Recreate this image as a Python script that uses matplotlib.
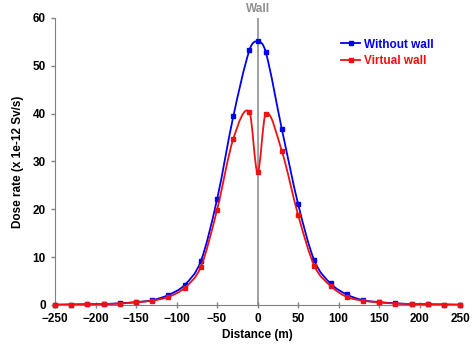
import matplotlib
matplotlib.use("Agg")
import matplotlib.pyplot as plt
from matplotlib.path import Path
from matplotlib.patches import PathPatch

plt.rcParams['font.family'] = ['Liberation Sans', 'DejaVu Sans']
plt.rcParams['font.weight'] = 'bold'

distance = [-250, -230, -210, -190, -170, -150, -130, -110, -90, -70, -50, -30, -10, 0,
            10, 30, 50, 70, 90, 110, 130, 150, 170, 190, 210, 230, 250]
without_wall = [0.05, 0.1, 0.15, 0.2, 0.35, 0.6, 1.0, 2.1, 4.2, 9.2, 22.1, 39.4, 53.3, 55.1,
                52.9, 36.7, 21.1, 9.3, 4.5, 2.2, 1.0, 0.6, 0.35, 0.2, 0.15, 0.1, 0.05]
virtual_wall = [0.05, 0.1, 0.15, 0.2, 0.3, 0.55, 0.9, 1.7, 3.6, 8.0, 19.9, 34.7, 40.3, 27.7,
                40.0, 32.1, 18.8, 8.2, 4.0, 1.7, 0.9, 0.55, 0.3, 0.2, 0.15, 0.1, 0.05]


def smooth_path(xs, ys):
    # smoothed line: cubic Bezier through the points, tangents scaled by spacing
    pts = list(zip(xs, ys))
    verts = [pts[0]]
    codes = [Path.MOVETO]
    n = len(pts)
    for i in range(n - 1):
        p0 = pts[max(i - 1, 0)]
        p1 = pts[i]
        p2 = pts[i + 1]
        p3 = pts[min(i + 2, n - 1)]
        h = p2[0] - p1[0]
        a = h / (p2[0] - p0[0]) / 3
        b = h / (p3[0] - p1[0]) / 3
        c1 = (p1[0] + (p2[0] - p0[0]) * a, p1[1] + (p2[1] - p0[1]) * a)
        c2 = (p2[0] - (p3[0] - p1[0]) * b, p2[1] - (p3[1] - p1[1]) * b)
        verts += [c1, c2, p2]
        codes += [Path.CURVE4] * 3
    return Path(verts, codes)


fig = plt.figure(figsize=(4.72, 3.45), dpi=100)
ax = fig.add_axes([0.1165, 0.116, 0.8585, 0.832])

ax.axvline(0, color='#909090', lw=1.2, zorder=1)
for ys, c, lab, z in [(without_wall, '#0000ee', 'Without wall', 3),
                      (virtual_wall, '#ee1111', 'Virtual wall', 4)]:
    ax.add_patch(PathPatch(smooth_path(distance, ys), fill=False, edgecolor=c, lw=1.3,
                           zorder=z))
    ax.plot(distance, ys, color=c, lw=1.3, ls='none', marker='s', ms=3.5, zorder=z,
            clip_on=False)
    ax.plot([], [], color=c, lw=1.3, marker='s', ms=3.5, label=lab)

ax.set_xlim(-250, 250)
ax.set_ylim(0, 60)
ax.set_xticks(range(-250, 251, 50))
ax.set_yticks(range(0, 61, 10))
ax.tick_params(labelsize=8.5, length=3, color='#808080', width=1)
ax.tick_params(axis='x', direction='inout', length=5)

for s in ['top', 'right']:
    ax.spines[s].set_visible(False)
ax.spines['left'].set_color('#808080')
ax.spines['bottom'].set_color('#808080')

ax.set_xlabel('Distance (m)', fontsize=8.5, fontweight='bold', labelpad=3)
ax.set_ylabel('Dose rate (x 1e-12 Sv/s)', fontsize=8.5, fontweight='bold', labelpad=6)
ax.text(0, 60.6, 'Wall', ha='center', va='bottom', color='#909090', fontsize=8.5,
        fontweight='bold')

leg = ax.legend(loc='upper left', bbox_to_anchor=(0.68, 0.965), frameon=False,
                fontsize=8.5, handlelength=1.6, handletextpad=0.3, labelspacing=0.35)
for txt, c in zip(leg.get_texts(), ['#0000ee', '#ee1111']):
    txt.set_color(c)

fig.savefig('out.png', dpi=100)
